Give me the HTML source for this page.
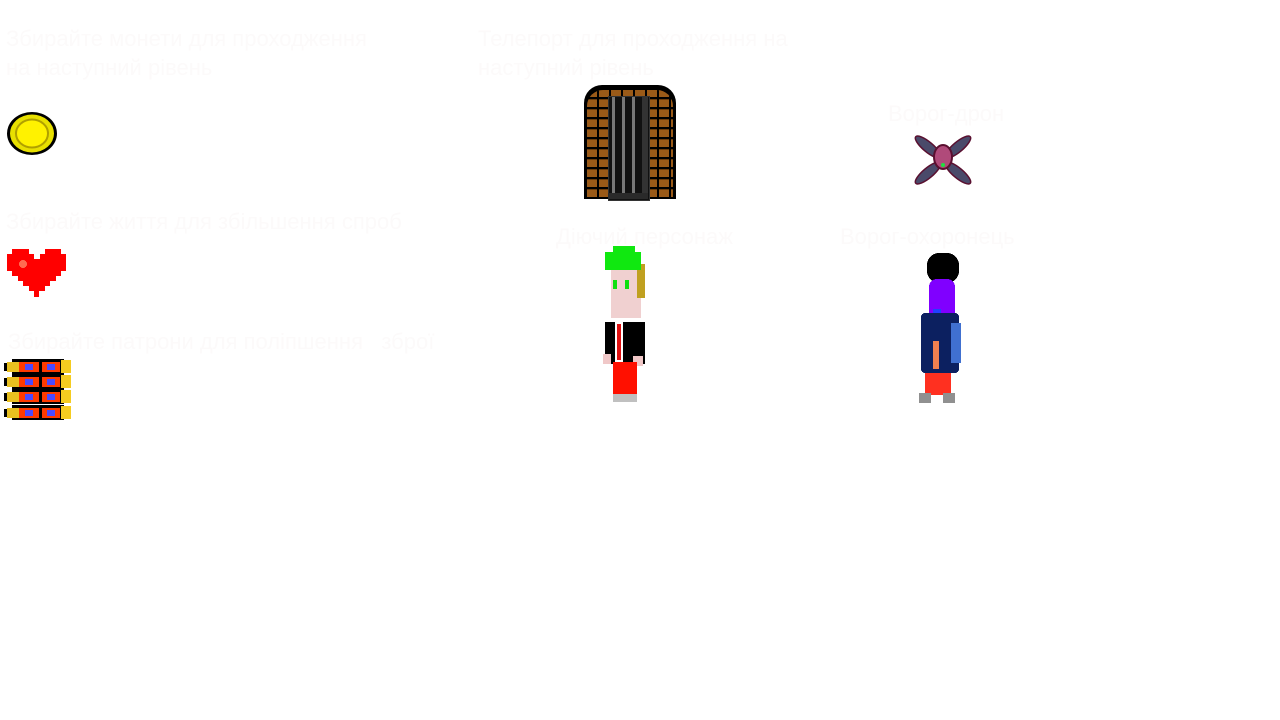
<!DOCTYPE html>
<html><head><meta charset="utf-8"><style>
html,body{margin:0;padding:0;background:#fff;width:1280px;height:720px;overflow:hidden;position:relative}
.t{position:absolute;font-family:"Liberation Sans","DejaVu Sans",sans-serif;font-size:22px;line-height:29px;color:#fcfafa;white-space:nowrap}
.a{position:absolute}
</style></head><body>
<div class="t" style="left:6px;top:24px">Збирайте монети для проходження<br>на наступний рівень</div>
<div class="t" style="left:478px;top:24px">Телепорт для проходження на<br>наступний рівень</div>
<div class="t" style="left:888px;top:99px">Ворог-дрон</div>
<div class="t" style="left:6px;top:207px">Збирайте життя для збільшення спроб</div>
<div class="t" style="left:556px;top:222px">Діючий персонаж</div>
<div class="t" style="left:840px;top:222px">Ворог-охоронець</div>
<div class="t" style="left:8px;top:327px">Збирайте патрони для поліпшення &nbsp;&nbsp;зброї</div>

<!-- coin -->
<svg class="a" style="left:6px;top:111px" width="52" height="45" viewBox="0 0 52 45">
<ellipse cx="26" cy="22.5" rx="25" ry="21.5" fill="#000"/>
<ellipse cx="26" cy="22.5" rx="22" ry="19" fill="#e8e000"/>
<ellipse cx="26" cy="22.5" rx="16" ry="14" fill="#fff200" stroke="#b0a000" stroke-width="2"/>
</svg>

<!-- heart -->
<svg class="a" style="left:7px;top:249px" width="60" height="50" viewBox="0 0 60 50" shape-rendering="crispEdges">
<path d="M5 0H22V5H27V10H33V5H38V0H54V5H59V22H54V27H49V32H43V37H38V42H32V48H27V42H22V37H16V32H11V27H5V22H0V5H5Z" fill="#ff0000"/>
<circle cx="16" cy="15" r="4" fill="#ff6a50"/>
</svg>

<!-- bullets -->
<svg class="a" style="left:4px;top:359px" width="68" height="64" viewBox="0 0 68 64" shape-rendering="crispEdges">
<g id="b">
<rect x="8" y="0" width="52" height="15" fill="#000"/>
<rect x="0" y="4" width="10" height="8" fill="#000"/>
<rect x="3" y="3" width="12" height="10" fill="#e8c020"/>
<rect x="15" y="3" width="20" height="10" fill="#ff3a00"/>
<rect x="38" y="3" width="18" height="10" fill="#ff3a00"/>
<rect x="21" y="5" width="8" height="6" fill="#4a4aff"/>
<rect x="43" y="5" width="8" height="6" fill="#4a4aff"/>
<rect x="57" y="1" width="10" height="13" fill="#f5cc20"/>
</g>
<use href="#b" y="15"/><use href="#b" y="30"/><use href="#b" y="46"/>
</svg>

<!-- door -->
<div class="a" style="left:584px;top:85px;width:92px;height:114px;background:#000;border-radius:18px 18px 0 0"></div>
<div class="a" style="left:587px;top:90px;width:86px;height:109px;border-radius:16px 16px 0 0;background:
repeating-linear-gradient(0deg,transparent 0 2px,#9a5a18 2px 9px,#6b3c0c 9px 10px);"></div>
<div class="a" style="left:587px;top:90px;width:86px;height:109px;border-radius:16px 16px 0 0;background:
repeating-linear-gradient(90deg,transparent 0 10px,#000 10px 12px)"></div>
<div class="a" style="left:608px;top:96px;width:40px;height:103px;background:#111;border:1px solid #333"></div>
<div class="a" style="left:612px;top:97px;width:3px;height:96px;background:#777"></div>
<div class="a" style="left:622px;top:97px;width:3px;height:96px;background:#777"></div>
<div class="a" style="left:632px;top:97px;width:3px;height:96px;background:#777"></div>
<div class="a" style="left:642px;top:97px;width:6px;height:96px;background:#333"></div>
<div class="a" style="left:608px;top:193px;width:40px;height:6px;background:#2a2a2a"></div>

<!-- drone -->
<svg class="a" style="left:913px;top:135px" width="60" height="50" viewBox="0 0 60 50">
<g stroke="#5a1030" stroke-width="1.5" fill="#4a4a6a">
<ellipse cx="15" cy="12" rx="16" ry="5" transform="rotate(40 15 12)"/>
<ellipse cx="45" cy="12" rx="16" ry="5" transform="rotate(-40 45 12)"/>
<ellipse cx="15" cy="38" rx="16" ry="5" transform="rotate(-40 15 38)"/>
<ellipse cx="45" cy="38" rx="16" ry="5" transform="rotate(40 45 38)"/>
</g>
<ellipse cx="30" cy="22" rx="9" ry="12" fill="#b04a7a" stroke="#5a1030" stroke-width="2"/>
<circle cx="30" cy="30" r="2" fill="#20e040"/>
</svg>

<!-- player -->
<svg class="a" style="left:603px;top:246px" width="44" height="160" viewBox="0 0 44 160" shape-rendering="crispEdges">
<rect x="8" y="14" width="30" height="58" fill="#f0d0d0"/>
<rect x="34" y="18" width="8" height="34" fill="#c0a020"/>
<rect x="2" y="6" width="36" height="18" fill="#10e810"/>
<rect x="10" y="0" width="22" height="8" fill="#10e810"/>
<rect x="10" y="34" width="4" height="9" fill="#10e010"/>
<rect x="22" y="34" width="4" height="9" fill="#10e010"/>
<rect x="2" y="76" width="40" height="42" fill="#000"/>
<rect x="12" y="76" width="8" height="40" fill="#fff"/>
<rect x="14" y="78" width="4" height="36" fill="#e01010"/>
<rect x="0" y="108" width="8" height="10" fill="#f0c8c8"/>
<rect x="30" y="110" width="10" height="10" fill="#f0c8c8"/>
<rect x="10" y="116" width="24" height="34" fill="#ff1000"/>
<rect x="10" y="148" width="24" height="8" fill="#c0c0c0"/>
</svg>

<!-- guard -->
<svg class="a" style="left:917px;top:253px" width="46" height="153" viewBox="0 0 46 153" shape-rendering="crispEdges">
<rect x="10" y="0" width="32" height="30" rx="12" fill="#000"/>
<rect x="12" y="26" width="26" height="58" rx="8" fill="#8000ff"/>
<rect x="16" y="56" width="8" height="4" fill="#2040ff"/>
<rect x="4" y="60" width="38" height="60" rx="4" fill="#0c2060"/>
<rect x="34" y="70" width="10" height="40" fill="#4070d0"/>
<rect x="16" y="88" width="6" height="28" fill="#f08050"/>
<rect x="8" y="120" width="26" height="22" fill="#ff3020"/>
<rect x="2" y="140" width="12" height="10" fill="#909090"/>
<rect x="26" y="140" width="12" height="10" fill="#909090"/>
</svg>
</body></html>
